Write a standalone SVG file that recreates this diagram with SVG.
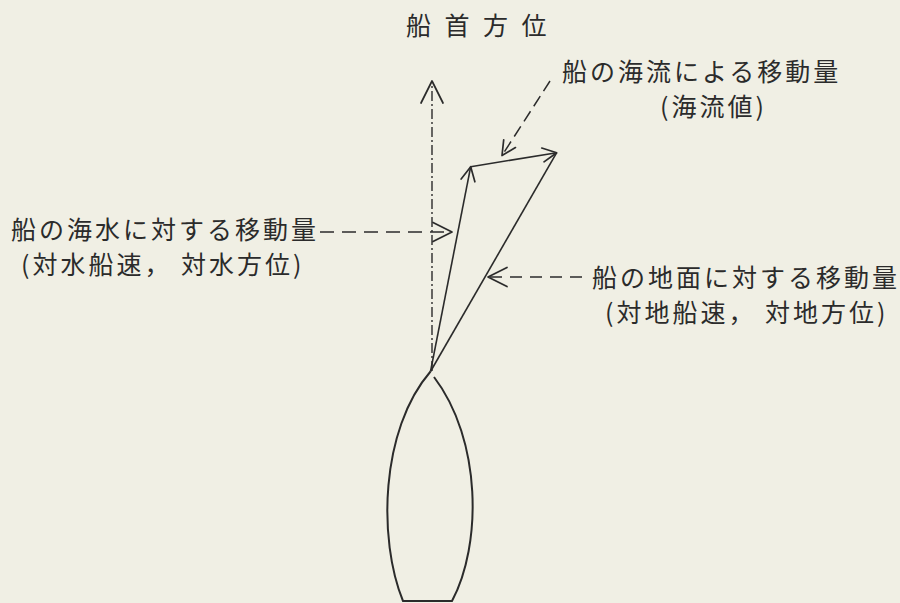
<svg xmlns="http://www.w3.org/2000/svg" width="900" height="603" viewBox="0 0 900 603">
  <style>
    .lbl { font-family: "Noto Sans CJK JP", "Noto Sans CJK SC", sans-serif; font-size: 25px; letter-spacing: 3px; fill: #2b2b2b; }
    .title { letter-spacing: 13.5px; }
    .vec { fill: none; stroke: #2b2b2b; stroke-width: 1.6; }
    .dash { fill: none; stroke: #2b2b2b; stroke-width: 1.5; stroke-dasharray: 14 8; }
    .dashdot { fill: none; stroke: #2b2b2b; stroke-width: 1.4; stroke-dasharray: 10 3 2 3; }
    .hull { fill: none; stroke: #2b2b2b; stroke-width: 2; stroke-linejoin: round; }
    .head { fill: none; stroke: #2b2b2b; stroke-width: 1.7; stroke-dasharray: none; stroke-linecap: round; stroke-linejoin: round; }
  </style>
  <defs>
    <marker id="big" viewBox="-24 -13 27 26" refX="0" refY="0" markerWidth="27" markerHeight="26" markerUnits="userSpaceOnUse" orient="auto">
      <path class="head" d="M-22,-11 L0,0 L-22,11"/>
    </marker>
    <marker id="mid" viewBox="-22 -12 25 24" refX="0" refY="0" markerWidth="25" markerHeight="24" markerUnits="userSpaceOnUse" orient="auto">
      <path class="head" d="M-19,-9.5 L0,0 L-19,9.5"/>
    </marker>
    <marker id="small" viewBox="-17 -9 20 18" refX="0" refY="0" markerWidth="20" markerHeight="18" markerUnits="userSpaceOnUse" orient="auto">
      <path class="head" d="M-14,-7 L0,0 L-14,7"/>
    </marker>
  </defs>

  <rect x="0" y="0" width="900" height="603" fill="#f0efe4"/>

  <g id="ship">
    <path class="hull" d="M434,377 C482,440 482,545 452,601 L403,601 C378,540 380,430 430.5,371.5"/>
  </g>

  <g id="connectors">
    <line id="heading-arrow" class="dashdot" x1="432" y1="371" x2="432" y2="81" marker-end="url(#big)"/>
    <line id="water-vector" class="vec" x1="430.5" y1="371.5" x2="470.7" y2="166.7" marker-end="url(#small)"/>
    <line id="current-vector" class="vec" x1="470.7" y1="166.7" x2="556.7" y2="152.7" marker-end="url(#small)"/>
    <line id="ground-vector" class="vec" x1="430.5" y1="371.5" x2="556.7" y2="152.7"/>
    <line id="leader-current" class="dash" style="stroke-dasharray: 12 6" x1="550" y1="81" x2="502" y2="155.5" marker-end="url(#small)"/>
    <line id="leader-water" class="dash" x1="320" y1="232" x2="452" y2="232" marker-end="url(#mid)"/>
    <line id="leader-ground" class="dash" style="stroke-dasharray: 12 8" x1="582" y1="277" x2="488" y2="277" marker-end="url(#mid)"/>
  </g>

  <g id="label-heading">
    <text class="lbl title" x="406" y="34.5">船首方位</text>
  </g>
  <g id="label-current">
    <text class="lbl" x="562" y="81">船の海流による移動量</text>
    <text class="lbl" x="660" y="116">(海流値)</text>
  </g>
  <g id="label-water">
    <text class="lbl" x="11" y="238.5">船の海水に対する移動量</text>
    <text class="lbl" x="21" y="273.5">(対水船速， 対水方位)</text>
  </g>
  <g id="label-ground">
    <text class="lbl" x="592" y="286.5">船の地面に対する移動量</text>
    <text class="lbl" x="605" y="322">(対地船速， 対地方位)</text>
  </g>
</svg>
